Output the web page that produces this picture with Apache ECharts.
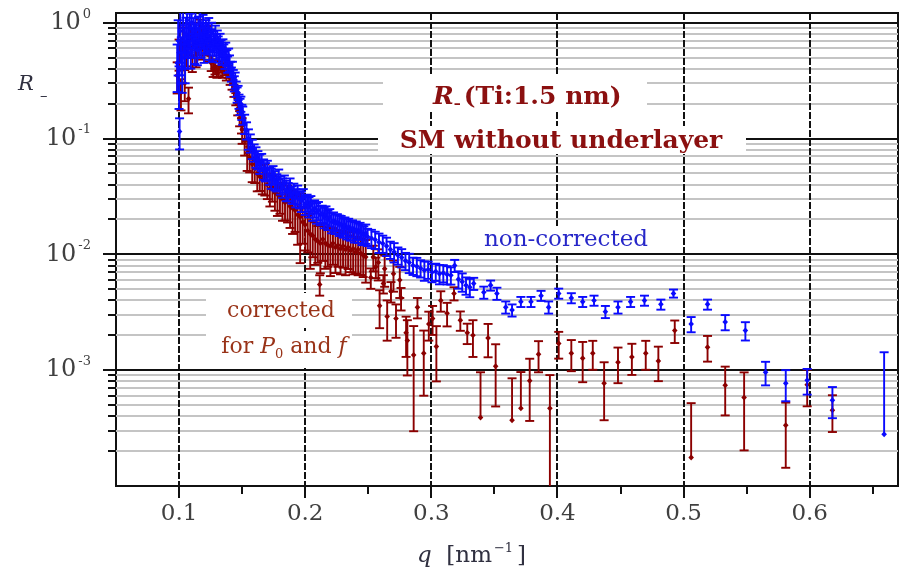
<!DOCTYPE html>
<html lang="en">
<head>
<meta charset="UTF-8">
<title>R- (Ti:1.5 nm) SM without underlayer</title>
<script src="https://cdn.jsdelivr.net/npm/echarts@6/dist/echarts.min.js"></script>
<style>
  html, body { margin: 0; padding: 0; background: #ffffff; overflow: hidden; }
  #chart { width: 904px; height: 573px; }
</style>
</head>
<body>
<div id="chart"></div>
<script>
// each point: [q (nm^-1), R, relative error of R]
var bluePeak = [
  [0.0985,0.45,0.44],[0.0993,0.70,0.50],[0.1000,0.30,0.40],[0.1004,0.115,0.30],[0.1010,0.85,0.47],
  [0.1018,0.55,0.36],[0.1025,0.40,0.38],[0.1032,0.95,0.42],[0.1040,0.65,0.38],[0.1048,0.50,0.40],
  [0.1055,0.80,0.38],[0.1063,1.05,0.38],[0.1070,0.60,0.33],[0.1078,0.75,0.33],[0.1085,0.90,0.33],
  [0.1093,0.55,0.27],[0.1100,1.00,0.30],[0.1108,0.70,0.29],[0.1115,0.85,0.29],[0.1123,0.62,0.29],
  [0.1130,0.95,0.32],[0.1138,0.78,0.26],[0.1145,0.58,0.26],[0.1153,0.88,0.28],[0.1160,0.70,0.29],
  [0.1168,1.00,0.30],[0.1175,0.65,0.23],[0.1183,0.80,0.25],[0.1190,0.92,0.27],[0.1198,0.60,0.25],
  [0.1205,0.75,0.27],[0.1213,0.85,0.24],[0.1220,0.68,0.22],[0.1228,0.78,0.26],[0.1235,0.90,0.22],
  [0.1243,0.62,0.23],[0.1250,0.72,0.22],[0.1258,0.82,0.22],[0.1265,0.58,0.21],[0.1273,0.70,0.21],
  [0.1280,0.66,0.21],[0.1288,0.78,0.21],[0.1295,0.60,0.20],[0.1303,0.72,0.19],[0.1310,0.64,0.19],
  [0.1318,0.55,0.18],[0.1325,0.68,0.18],[0.1333,0.60,0.17],[0.1340,0.52,0.17],[0.1348,0.62,0.16],
  [0.1355,0.56,0.16],[0.1363,0.48,0.17],[0.1370,0.58,0.16],[0.1378,0.50,0.16],[0.1385,0.44,0.16],
  [0.1393,0.52,0.15],[0.1400,0.45,0.16],[0.1408,0.40,0.15],[0.1415,0.36,0.14],[0.1423,0.40,0.15],
  [0.1430,0.34,0.15],[0.1438,0.30,0.15],[0.1445,0.32,0.16],[0.1453,0.27,0.15],[0.1460,0.24,0.15],
  [0.1468,0.25,0.14],[0.1475,0.21,0.14],[0.1483,0.19,0.16],[0.1490,0.20,0.15],[0.1498,0.17,0.15]
];
var blueMid = [
  [0.1505,0.160,0.18],[0.1520,0.135,0.19],[0.1535,0.118,0.17],[0.1550,0.100,0.20],[0.1565,0.092,0.18],
  [0.1580,0.082,0.19],[0.1595,0.076,0.17],[0.1610,0.070,0.20],[0.1625,0.066,0.18],[0.1640,0.061,0.19],
  [0.1655,0.063,0.17],[0.1670,0.055,0.20],[0.1685,0.052,0.18],[0.1700,0.054,0.19],[0.1715,0.048,0.17],
  [0.1730,0.046,0.20],[0.1745,0.049,0.18],[0.1760,0.044,0.19],[0.1775,0.042,0.17],[0.1790,0.045,0.20],
  [0.1805,0.040,0.18],[0.1820,0.038,0.19],[0.1835,0.041,0.17],[0.1850,0.036,0.20],[0.1865,0.035,0.18],
  [0.1880,0.038,0.19],[0.1895,0.033,0.17],[0.1910,0.034,0.20],[0.1925,0.031,0.18],[0.1940,0.033,0.19],
  [0.1955,0.030,0.17],[0.1970,0.029,0.20],[0.1985,0.031,0.18],[0.2000,0.027,0.19],[0.2015,0.028,0.17],
  [0.2030,0.026,0.20],[0.2045,0.027,0.18],[0.2060,0.024,0.19],[0.2075,0.025,0.17],[0.2090,0.023,0.20],
  [0.2105,0.024,0.18],[0.2120,0.022,0.19],[0.2135,0.0225,0.17],[0.2150,0.021,0.20],[0.2165,0.022,0.18],
  [0.2180,0.020,0.19],[0.2195,0.021,0.17],[0.2210,0.019,0.20],[0.2225,0.0195,0.18],[0.2240,0.0185,0.19],
  [0.2255,0.019,0.17],[0.2270,0.018,0.20],[0.2285,0.0182,0.18],[0.2300,0.0172,0.19],[0.2315,0.0178,0.17],
  [0.2330,0.0168,0.20],[0.2345,0.0172,0.18],[0.2360,0.0162,0.19],[0.2375,0.0168,0.17],[0.2390,0.0158,0.20],
  [0.2405,0.0163,0.18],[0.2420,0.0155,0.19],[0.2435,0.0160,0.17],[0.2450,0.0150,0.20],[0.2465,0.0148,0.18],
  [0.2480,0.0152,0.19],[0.2495,0.0142,0.17],[0.2525,0.0138,0.18],[0.2555,0.0134,0.17],[0.2585,0.0127,0.19],
  [0.2615,0.0124,0.17],[0.2645,0.0118,0.18],[0.2675,0.0110,0.17],[0.2705,0.0105,0.19],[0.2735,0.0098,0.17],
  [0.2765,0.0094,0.18],[0.2795,0.0088,0.17],[0.2825,0.0085,0.19],[0.2855,0.0080,0.17],[0.2885,0.0079,0.18],
  [0.2915,0.0076,0.17],[0.2945,0.0073,0.19],[0.2975,0.0074,0.17],[0.3005,0.0070,0.18],[0.3035,0.0071,0.17],
  [0.3065,0.0068,0.19],[0.3095,0.0069,0.17],[0.3125,0.0067,0.18],[0.3155,0.0066,0.17],[0.3185,0.0080,0.12],
  [0.3215,0.0061,0.17],[0.3245,0.0058,0.18],[0.3275,0.0054,0.17],[0.3305,0.0052,0.18]
];
var blueTail = [
  [0.3336,0.0056,0.12],[0.3416,0.0047,0.12],[0.347,0.0054,0.10],[0.352,0.0046,0.12],[0.359,0.0035,0.12],
  [0.364,0.0033,0.12],[0.371,0.0039,0.10],[0.379,0.0039,0.10],[0.387,0.0044,0.10],[0.393,0.0035,0.12],
  [0.401,0.0046,0.10],[0.411,0.0042,0.10],[0.420,0.0039,0.10],[0.429,0.0040,0.10],[0.438,0.0032,0.12],
  [0.448,0.0035,0.12],[0.458,0.0039,0.10],[0.469,0.0040,0.10],[0.482,0.0037,0.10],[0.492,0.0046,0.08],
  [0.506,0.0025,0.15],[0.519,0.0037,0.10],[0.533,0.0026,0.15],[0.549,0.0022,0.18],[0.565,0.00096,0.23],
  [0.581,0.00077,0.30],[0.598,0.00082,0.25],[0.618,0.00055,0.30],[0.659,0.00028,4.1]
];
var redPeak = [
  [0.0985,0.35,0.30],[0.1000,0.55,0.30],[0.1015,0.25,0.30],[0.1030,0.70,0.30],[0.1045,0.30,0.30],
  [0.1060,0.60,0.30],[0.1075,0.22,0.25],[0.1090,0.75,0.30],[0.1105,0.50,0.25],[0.1120,0.80,0.25],
  [0.1135,0.55,0.25],[0.1150,0.70,0.25],[0.1165,0.85,0.25],[0.1180,0.60,0.20],[0.1195,0.72,0.20],
  [0.1210,0.65,0.20],[0.1225,0.78,0.20],[0.1240,0.58,0.20],[0.1255,0.45,0.15],[0.1270,0.40,0.15],
  [0.1285,0.42,0.15],[0.1300,0.38,0.12],[0.1315,0.40,0.15],[0.1330,0.42,0.12],[0.1345,0.38,0.12],
  [0.1360,0.40,0.12],[0.1375,0.36,0.12],[0.1390,0.38,0.12],[0.1405,0.33,0.12],[0.1420,0.30,0.12],
  [0.1435,0.26,0.12],[0.1450,0.22,0.12],[0.1465,0.18,0.12],[0.1480,0.15,0.15],[0.1495,0.13,0.15]
];
var redMid = [
  [0.150,0.12,0.25],[0.152,0.095,0.25],[0.154,0.075,0.30],[0.156,0.068,0.25],[0.158,0.060,0.30],
  [0.160,0.055,0.25],[0.162,0.050,0.30],[0.164,0.047,0.25],[0.166,0.044,0.25],[0.168,0.046,0.30],
  [0.170,0.040,0.25],[0.172,0.037,0.30],[0.174,0.038,0.25],[0.176,0.034,0.30],[0.178,0.033,0.35],
  [0.180,0.032,0.30],[0.182,0.030,0.35],[0.184,0.028,0.30],[0.186,0.029,0.35],[0.188,0.026,0.35],
  [0.190,0.025,0.40],[0.192,0.024,0.35],[0.194,0.022,0.45],[0.196,0.021,0.60],[0.198,0.019,0.35],
  [0.200,0.018,0.40],[0.202,0.016,0.35],[0.204,0.015,0.50],[0.206,0.0145,0.35],[0.208,0.0135,0.40],
  [0.210,0.013,0.35],[0.2115,0.0055,0.20],[0.212,0.0125,0.45],[0.214,0.0135,0.35],[0.216,0.0125,0.40],
  [0.218,0.012,0.35],[0.220,0.0118,0.45],[0.222,0.0125,0.35],[0.224,0.0115,0.40],[0.226,0.012,0.35],
  [0.228,0.0112,0.40],[0.230,0.0118,0.35],[0.232,0.011,0.40],[0.234,0.0115,0.35],[0.236,0.0108,0.35],
  [0.238,0.0112,0.40],[0.240,0.0105,0.35],[0.242,0.011,0.40],[0.244,0.0102,0.35],[0.246,0.0098,0.35],
  [0.248,0.0095,0.40]
];
var redLow = [
  [0.252,0.0063,0.20],[0.254,0.0095,0.25],[0.256,0.0078,0.20],[0.258,0.0085,0.30],[0.259,0.0036,0.36],
  [0.262,0.0056,0.18],[0.263,0.0075,0.30],[0.265,0.0029,0.38],[0.268,0.0048,0.20],[0.270,0.0068,0.30],
  [0.272,0.0028,0.32],[0.275,0.0060,0.30],[0.276,0.0042,0.22],[0.280,0.0021,0.38],[0.281,0.0018,0.50],
  [0.286,0.00135,0.78],[0.289,0.0035,0.20],[0.294,0.0014,0.57],[0.298,0.0025,0.28],[0.301,0.0028,0.28],
  [0.304,0.0016,0.50],[0.3075,0.0040,0.20],[0.3125,0.0031,0.23],[0.318,0.0046,0.13],[0.323,0.0027,0.19],
  [0.3285,0.0021,0.20]
];
var redTail = [
  [0.333,0.0020,0.35],[0.339,0.00039,1.46],[0.345,0.0019,0.32],[0.351,0.00108,0.55],[0.364,0.00037,1.30],
  [0.371,0.00047,1.05],[0.378,0.00081,0.55],[0.385,0.00137,0.30],[0.394,0.00047,0.93],[0.401,0.0017,0.26],
  [0.411,0.0014,0.30],[0.420,0.00127,0.38],[0.428,0.0014,0.28],[0.437,0.00077,0.52],[0.448,0.00117,0.34],
  [0.459,0.0013,0.30],[0.470,0.0014,0.28],[0.480,0.0012,0.33],[0.493,0.0022,0.22],[0.506,0.000176,1.95],
  [0.519,0.00158,0.25],[0.533,0.00074,0.45],[0.548,0.00058,0.65],[0.581,0.000334,0.57],[0.598,0.00075,0.35],
  [0.618,0.00045,0.35]
];

// axis ticks
var xMajor = [0.1, 0.2, 0.3, 0.4, 0.5, 0.6];
var xMinor = [0.15, 0.25, 0.35, 0.45, 0.55, 0.65];
var yMajor = [1e-3, 1e-2, 1e-1, 1];
var yMinor = [
  2e-4, 3e-4, 4e-4, 5e-4, 6e-4, 7e-4, 8e-4, 9e-4,
  2e-3, 3e-3, 4e-3, 5e-3, 6e-3, 7e-3, 8e-3, 9e-3,
  2e-2, 3e-2, 4e-2, 5e-2, 6e-2, 7e-2, 8e-2, 9e-2,
  2e-1, 3e-1, 4e-1, 5e-1, 6e-1, 7e-1, 8e-1, 9e-1
];

var SERIF = 'DejaVu Serif';
var BLUE = '#0a0aff';
var DARKRED = '#8b0000';

var chart = echarts.init(document.getElementById('chart'));

function seg(x1, y1, x2, y2, color, w, dash) {
  var s = { stroke: color, lineWidth: w };
  if (dash) s.lineDash = dash;
  return { type: 'line', shape: { x1: x1, y1: y1, x2: x2, y2: y2 }, style: s };
}

// grid lines and ticks (kind: 0 x major, 1 x minor, 2 y major, 3 y minor)
var frameData = [];
yMinor.forEach(function (v) { frameData.push([0.1, v, 3]); });
xMajor.forEach(function (v) { frameData.push([v, 0.01, 0]); });
xMinor.forEach(function (v) { frameData.push([v, 0.01, 1]); });
yMajor.forEach(function (v) { frameData.push([0.1, v, 2]); });

function renderFrame(params, api) {
  var cs = params.coordSys;
  var kind = api.value(2);
  var p = api.coord([api.value(0), api.value(1)]);
  var L = cs.x, R = cs.x + cs.width, T = cs.y, B = cs.y + cs.height;
  var px = Math.round(p[0]), py = Math.round(p[1]);
  var kids = [];
  if (kind === 0) {
    kids.push(seg(px, T, px, B, '#111', 2, [7, 2]));
    kids.push(seg(px, B, px, B + 12, '#111', 2));
  } else if (kind === 1) {
    kids.push(seg(px, B, px, B + 8, '#111', 2));
  } else if (kind === 2) {
    kids.push(seg(L, py, R, py, '#111', 2));
    kids.push(seg(L - 13, py, L, py, '#111', 2));
  } else {
    kids.push(seg(L, py, R, py, '#c4c4c4', 2));
    kids.push(seg(L - 8, py, L, py, '#111', 2));
  }
  return { type: 'group', children: kids };
}

function renderErr(color) {
  return function (params, api) {
    var cs = params.coordSys;
    var q = api.value(0), r = api.value(1), e = api.value(2);
    var c = api.coord([q, r]);
    var x = c[0];
    var top = api.coord([q, r * (1 + e)])[1];
    var lowV = r * (1 - e);
    var bot = lowV > 0 ? api.coord([q, lowV])[1] : c[1];
    var kids = [
      seg(x, top, x, bot, color, 1.9),
      seg(x - 4.5, top, x + 4.5, top, color, 1.9),
      { type: 'polygon',
        shape: { points: [[x, c[1] - 3], [x + 2.8, c[1]], [x, c[1] + 3], [x - 2.8, c[1]]] },
        style: { fill: color } }
    ];
    if (lowV > 0) kids.push(seg(x - 4.5, bot, x + 4.5, bot, color, 1.9));
    return {
      type: 'group',
      children: kids,
      clipPath: { type: 'rect', shape: { x: cs.x, y: cs.y, width: cs.width, height: cs.height } }
    };
  };
}

var blueData = bluePeak.concat(blueMid, blueTail);
var redData = redPeak.concat(redMid, redLow, redTail);

var option = {
  animation: false,
  backgroundColor: '#ffffff',
  grid: {
    left: 116, right: 6, top: 13, bottom: 87,
    show: true, borderColor: '#111', borderWidth: 2,
    outerBoundsMode: 'none'
  },
  xAxis: {
    type: 'value',
    min: 0.05, max: 0.67, interval: 0.05,
    axisLine: { show: false },
    axisTick: { show: false },
    splitLine: { show: false },
    axisLabel: {
      margin: 17,
      fontFamily: SERIF, fontSize: 23, color: '#404040',
      formatter: function (v) {
        var t = v * 10;
        return Math.abs(t - Math.round(t)) < 1e-6 ? v.toFixed(1) : '';
      }
    }
  },
  yAxis: {
    type: 'log', logBase: 10,
    min: 0.0001, max: 1.213,
    axisLine: { show: false },
    axisTick: { show: false },
    splitLine: { show: false },
    axisLabel: {
      margin: 25,
      formatter: function (v) {
        var e = Math.log(v) / Math.LN10;
        var k = Math.round(e);
        if (Math.abs(e - k) > 1e-6 || k < -3) return '';
        return '{m|10}{e|' + k + '}';
      },
      rich: {
        m: { fontFamily: SERIF, fontSize: 24, color: '#404040', lineHeight: 30 },
        e: { fontFamily: SERIF, fontSize: 13, color: '#404040', lineHeight: 13, verticalAlign: 'top', padding: [0, 0, 0, 2] }
      }
    }
  },
  series: [
    { type: 'custom', name: 'frame', silent: true, clip: false, z: 1,
      encode: { x: 0, y: 1 }, renderItem: renderFrame, data: frameData },
    { type: 'custom', name: 'corrected', z: 3,
      encode: { x: 0, y: 1 }, renderItem: renderErr(DARKRED), data: redData },
    { type: 'custom', name: 'non-corrected', z: 4,
      encode: { x: 0, y: 1 }, renderItem: renderErr(BLUE), data: blueData }
  ],
  graphic: [
    // white boxes behind the annotations
    { type: 'rect', z: 2, shape: { x: 383, y: 74, width: 264, height: 38 }, style: { fill: '#fff' } },
    { type: 'rect', z: 2, shape: { x: 378, y: 126, width: 368, height: 28 }, style: { fill: '#fff' } },
    { type: 'rect', z: 2, shape: { x: 206, y: 293, width: 146, height: 33 }, style: { fill: '#fff' } },
    { type: 'rect', z: 2, shape: { x: 206, y: 331, width: 146, height: 37 }, style: { fill: '#fff' } },
    { type: 'rect', z: 2, shape: { x: 470, y: 226, width: 192, height: 27 }, style: { fill: '#fff' } },
    { type: 'text', z: 5, x: 433, y: 97,
      style: {
        text: '{r|R}{s|–}{b|(Ti:1.5 nm)}', align: 'left', verticalAlign: 'middle',
        rich: {
          r: { fontFamily: SERIF, fontSize: 25, fontWeight: 'bold', fontStyle: 'italic', fill: '#8b1010', lineHeight: 28 },
          s: { fontFamily: SERIF, fontSize: 14, fontWeight: 'bold', fill: '#8b1010', lineHeight: 14, verticalAlign: 'bottom' },
          b: { fontFamily: SERIF, fontSize: 25, fontWeight: 'bold', fill: '#8b1010', lineHeight: 28, padding: [0, 0, 0, 3] }
        }
      } },
    { type: 'text', z: 5, x: 561, y: 141,
      style: { text: 'SM without underlayer', align: 'center', verticalAlign: 'middle',
        fontFamily: SERIF, fontSize: 25, fontWeight: 'bold', fill: '#8b1010' } },
    { type: 'text', z: 5, x: 566, y: 240,
      style: { text: 'non-corrected', align: 'center', verticalAlign: 'middle',
        fontFamily: SERIF, fontSize: 23, fill: '#2626c8' } },
    { type: 'text', z: 5, x: 281, y: 311,
      style: { text: 'corrected', align: 'center', verticalAlign: 'middle',
        fontFamily: SERIF, fontSize: 22, fill: '#993318' } },
    { type: 'text', z: 5, x: 284, y: 347,
      style: {
        text: '{t|for }{i|P}{u|0}{t| and }{i|f}', align: 'center', verticalAlign: 'middle',
        rich: {
          t: { fontFamily: SERIF, fontSize: 22, fill: '#993318', lineHeight: 28 },
          i: { fontFamily: SERIF, fontSize: 22, fontStyle: 'italic', fill: '#993318', lineHeight: 28 },
          u: { fontFamily: SERIF, fontSize: 13, fill: '#993318', lineHeight: 12, verticalAlign: 'bottom' }
        }
      } },
    // axis names
    { type: 'text', z: 5, x: 18, y: 85,
      style: { text: 'R', align: 'left', verticalAlign: 'middle',
        fontFamily: SERIF, fontSize: 21, fontStyle: 'italic', fill: '#303040' } },
    { type: 'text', z: 5, x: 40, y: 96,
      style: { text: '–', align: 'left', verticalAlign: 'middle',
        fontFamily: SERIF, fontSize: 15, fill: '#303040' } },
    { type: 'text', z: 5, x: 417, y: 556,
      style: {
        text: '{i|q}{t|  [nm}{p|−1}{t|]}', align: 'left', verticalAlign: 'middle',
        rich: {
          i: { fontFamily: SERIF, fontSize: 23, fontStyle: 'italic', fill: '#303040', lineHeight: 28 },
          t: { fontFamily: SERIF, fontSize: 23, fill: '#303040', lineHeight: 28 },
          p: { fontFamily: SERIF, fontSize: 13, fill: '#303040', lineHeight: 13, verticalAlign: 'top', padding: [0, 4, 0, 2] }
        }
      } }
  ]
};

chart.setOption(option);
window.addEventListener('resize', function () { chart.resize(); });
</script>
</body>
</html>
